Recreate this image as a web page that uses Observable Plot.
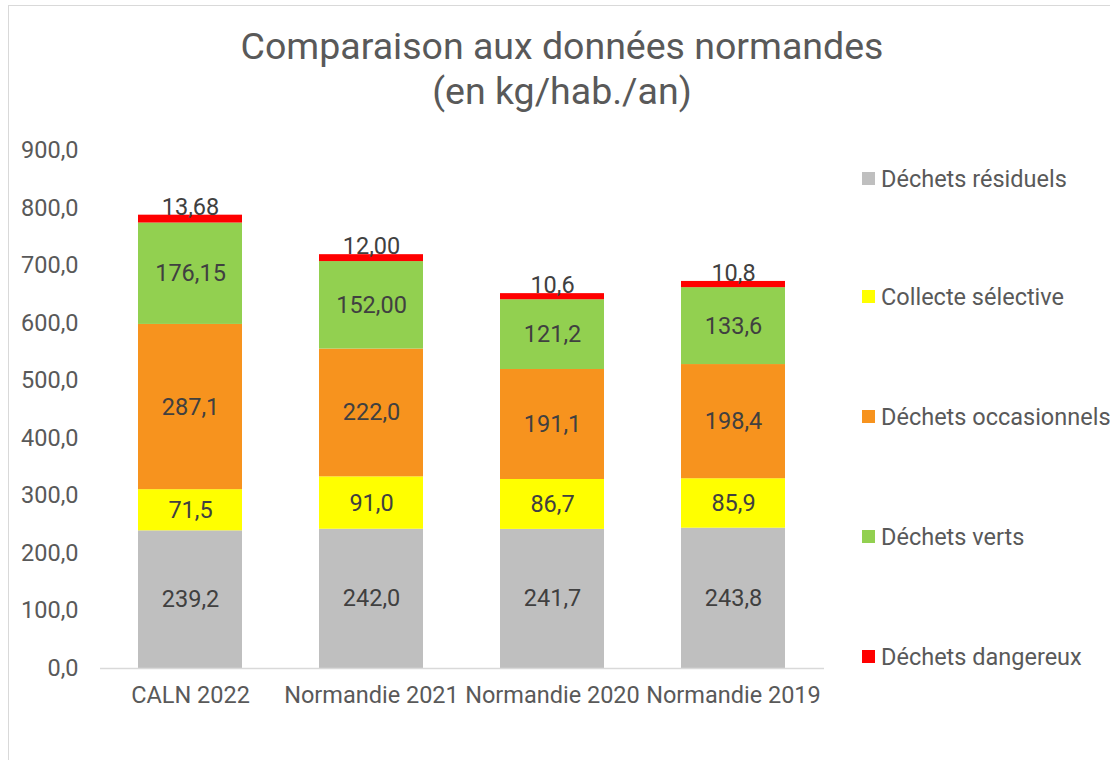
<!DOCTYPE html>
<html>
<head>
<meta charset="utf-8">
<script src="https://cdn.jsdelivr.net/npm/d3@7"></script>
<script src="https://cdn.jsdelivr.net/npm/@observablehq/plot@0.6"></script>
<style>
  body { margin: 0; background: #fff; font-family: Roboto, "Liberation Sans", sans-serif; }
  #wrap { position: relative; width: 1110px; height: 760px; overflow: hidden; background: #fff; }
  #frame { position: absolute; left: 8px; top: 5px; width: 1200px; height: 900px; border: 1.5px solid #d9d9d9; box-sizing: border-box; }
  #title { position: absolute; left: 162px; width: 800px; top: 24px; text-align: center; color: #595959; font-size: 37.5px; line-height: 45px; }
  #chart { position: absolute; left: 0; top: 130px; }
  .leg { position: absolute; left: 862px; color: #595959; font-size: 23.5px; line-height: 26px; white-space: nowrap; }
  .leg span.sw { display: inline-block; width: 13px; height: 13px; margin-right: 6px; vertical-align: 2px; }
</style>
</head>
<body>
<div id="wrap">
  <div id="frame"></div>
  <div id="title">Comparaison aux données normandes<br>(en kg/hab./an)</div>
  <div id="chart"></div>
  <div id="legend"></div>
</div>
<script>
const categories = ["CALN 2022", "Normandie 2021", "Normandie 2020", "Normandie 2019"];
const seriesNames = ["Déchets résiduels", "Collecte sélective", "Déchets occasionnels", "Déchets verts", "Déchets dangereux"];
const seriesColors = ["#BFBFBF", "#FFFF00", "#F7931E", "#92D050", "#FF0000"];
const residuels     = [239.2, 242.0, 241.7, 243.8];
const collecte      = [71.5, 91.0, 86.7, 85.9];
const occasionnels  = [287.1, 222.0, 191.1, 198.4];
const verts         = [176.15, 152.00, 121.2, 133.6];
const dangereux     = [13.68, 12.00, 10.6, 10.8];
// number of decimals shown in each data label, per series and category
const decimals = [
  [1, 1, 1, 1],
  [1, 1, 1, 1],
  [1, 1, 1, 1],
  [2, 2, 1, 1],
  [2, 2, 1, 1]
];
const yTicks = [0, 100, 200, 300, 400, 500, 600, 700, 800, 900];

const seriesValues = [residuels, collecte, occasionnels, verts, dangereux];
const data = [];
categories.forEach((c, i) => {
  seriesNames.forEach((s, j) => {
    data.push({cat: c, serie: s, value: seriesValues[j][i],
      label: seriesValues[j][i].toFixed(decimals[j][i]).replace(".", ","), top: j === 4});
  });
});

const fmt = d => d.toFixed(1).replace(".", ",");

const chart = Plot.plot({
  width: 1110,
  height: 600,
  marginTop: 20,
  marginBottom: 62,
  marginLeft: 100,
  marginRight: 286,
  style: {fontFamily: "Roboto, 'Liberation Sans', sans-serif", background: "transparent"},
  x: {domain: categories, paddingInner: 0.425, paddingOuter: 0.21, label: null, tickSize: 0, tickPadding: 18},
  y: {domain: [0, 900], ticks: yTicks, tickFormat: fmt, label: null, tickSize: 0, tickPadding: 22},
  color: {domain: seriesNames, range: seriesColors},
  marks: [
    Plot.barY(data, Plot.stackY({x: "cat", y: "value", fill: "serie", order: seriesNames})),
    Plot.ruleY([0], {stroke: "#d9d9d9", strokeWidth: 1.5}),
    Plot.text(data, Plot.stackY({x: "cat", y: "value", z: "serie", order: seriesNames,
      text: d => d.top ? "" : d.label, fill: "#404040", fontSize: 23.5})),
    Plot.text(data, Plot.stackY2({x: "cat", y: "value", z: "serie", order: seriesNames,
      text: d => d.top ? d.label : "", fill: "#404040", fontSize: 23.5, dy: -8}))
  ]
});
chart.querySelectorAll("g[aria-label='x-axis tick label'] text, g[aria-label='y-axis tick label'] text").forEach(t => {
  t.style.fontSize = "23.5px";
  t.style.fill = "#595959";
});
document.getElementById("chart").appendChild(chart);

const legendTops = [166, 284, 404, 524, 644];
const leg = document.getElementById("legend");
seriesNames.forEach((s, j) => {
  const div = document.createElement("div");
  div.className = "leg";
  div.style.top = legendTops[j] + "px";
  div.innerHTML = `<span class="sw" style="background:${seriesColors[j]}"></span>${s}`;
  leg.appendChild(div);
});
</script>
</body>
</html>
